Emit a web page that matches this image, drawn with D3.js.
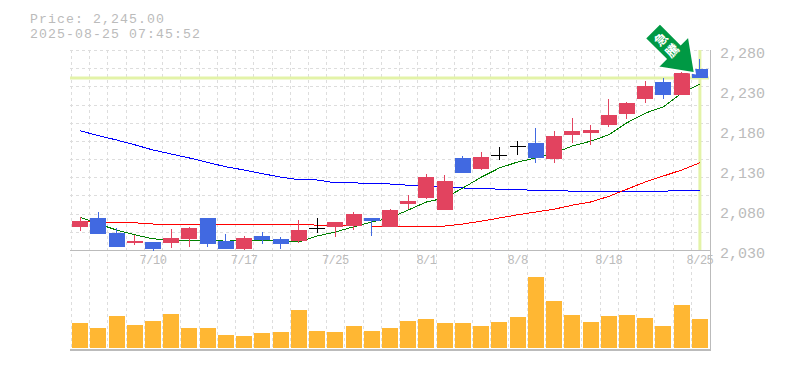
<!DOCTYPE html>
<html>
<head>
<meta charset="utf-8">
<script src="https://cdn.jsdelivr.net/npm/d3@7"></script>
<style>
  html, body { margin: 0; padding: 0; background: #fff; }
  svg { display: block; }
  text { font-family: "Liberation Mono", monospace; fill: #bbb; }
</style>
</head>
<body>
<svg id="chart" width="785" height="370"></svg>
<script>
const dates = ["7/4","7/7","7/8","7/9","7/10","7/11","7/14","7/15","7/16","7/17","7/18","7/22","7/23","7/24","7/25","7/28","7/29","7/30","7/31","8/1","8/4","8/5","8/6","8/7","8/8","8/12","8/13","8/14","8/15","8/18","8/19","8/20","8/21","8/22","8/25"];
const dateLabels = ["7/10","7/17","7/25","8/1","8/8","8/18","8/25"];
const priceTicks = [2030, 2080, 2130, 2180, 2230, 2280];

const open = [2059,2070,2051,2039,2040,2039,2044,2070,2041,2031,2048,2044,2041,2058,2059,2060,2070,2059,2088,2095,2080,2145,2131,2149,2160,2164,2144,2174,2176,2186,2200,2219,2240,2224,2256];
const high = [2071,2078,2058,2049,2040,2056,2059,2070,2050,2048,2053,2046,2068,2070,2065,2078,2070,2081,2099,2125,2124,2148,2153,2159,2166,2183,2179,2195,2186,2219,2215,2241,2245,2255,2269];
const low = [2054,2050,2034,2036,2029,2033,2034,2034,2031,2030,2038,2031,2039,2051,2046,2055,2048,2059,2081,2094,2080,2126,2130,2143,2149,2139,2139,2164,2161,2184,2194,2214,2219,2224,2245];
const close = [2066,2050,2034,2041,2031,2045,2058,2038,2031,2045,2043,2038,2055,2058,2065,2075,2066,2080,2091,2121,2116,2126,2146,2149,2160,2145,2173,2179,2180,2199,2214,2235,2224,2251,2245];

const maShort = [2071,2062.5,2055,2049,2044,2042.5,2042.5,2042.5,2041,2042,2042.5,2041,2040,2047.5,2052.5,2059,2065,2070,2080,2090,2095,2107.5,2121,2132.5,2140,2145,2151,2160,2166,2174,2189,2201,2209,2226,2237.5];
const maMid = [2066,2065,2065,2064,2062.5,2062.5,2062.5,2062.5,2062.5,2062.5,2062.5,2062.5,2062.5,2061,2060.5,2060,2060,2060,2060,2060,2060,2062.5,2066,2070,2074,2077.5,2081,2086,2090,2097,2106,2115,2122.5,2130,2139];
const maLong = [2179,2173,2167.5,2161.5,2155,2150,2145,2139.5,2134,2130,2125.5,2121,2118,2117.5,2114,2114,2113,2112.5,2111,2110.5,2109,2107.5,2107,2106,2105.5,2104.5,2104.5,2103.5,2103.5,2103.5,2103.5,2103.5,2103.5,2104.5,2104.5];

const volume = [25,20,32,23,27,34,20,20,13,12,15,16,38,17,16,22,17,20,27,29,25,25,22,26,31,71,47,33,26,32,33,30,22,43,29];

const lastPrice = 2245;
const title = "Price: 2,245.00";
const stamp = "2025-08-25 07:45:52";
const badge = ["急", "騰"];

const svg = d3.select("#chart");

let x = d3.scaleBand().domain(dates).range([71, 709]);
let y = d3.scaleLinear().domain([2030, 2280]).range([250, 50]);
let v = d3.scaleLinear().domain([0, 90]).range([348, 258]);
const cx = d => x(d) + x.bandwidth() / 2;
const bodyW = 16;

// grid
let grid = svg.append("g")
  .attr("stroke", "#ddd")
  .attr("stroke-dasharray", "3,3")
  .attr("shape-rendering", "crispEdges");
grid.selectAll("line.v").data(dates).enter().append("line")
  .attr("class", "v")
  .attr("x1", d => Math.round(x(d))).attr("x2", d => Math.round(x(d)))
  .attr("y1", 50).attr("y2", 350);
grid.selectAll("line.h").data(d3.range(0, 11)).enter().append("line")
  .attr("class", "h")
  .attr("x1", 70).attr("x2", 709)
  .attr("y1", d => Math.round(50 + d * 200 / 11))
  .attr("y2", d => Math.round(50 + d * 200 / 11));

// frame
let frame = svg.append("g").attr("stroke", "#bbb").attr("shape-rendering", "crispEdges");
frame.append("line").attr("x1", 70).attr("x2", 710).attr("y1", 250).attr("y2", 250);
frame.append("line").attr("x1", 710).attr("x2", 710).attr("y1", 50).attr("y2", 351);
frame.append("line").attr("x1", 70).attr("x2", 710).attr("y1", 350).attr("y2", 350).attr("stroke-width", 2);

// last price highlight
svg.append("line")
  .attr("x1", 70).attr("x2", 709)
  .attr("y1", y(lastPrice)).attr("y2", y(lastPrice))
  .attr("stroke", "#e3f3a8").attr("stroke-width", 3);
svg.append("line")
  .attr("x1", cx(dates[34])).attr("x2", cx(dates[34]))
  .attr("y1", 50).attr("y2", 250)
  .attr("stroke", "#e3f3a8").attr("stroke-width", 3);

// moving averages
let line = d3.line().x((d, i) => cx(dates[i])).y(d => y(d));
[[maLong, "#0000ff"], [maMid, "#ff0000"], [maShort, "#008000"]].forEach(function (m) {
  svg.append("path")
    .attr("d", line(m[0]))
    .attr("fill", "none")
    .attr("stroke", m[1])
    .attr("stroke-width", 1)
    .attr("shape-rendering", "crispEdges");
});

// candles
function candleColor(i) {
  if (close[i] === open[i]) return "#000";
  return close[i] > open[i] ? "#e2435f" : "#4169e1";
}
let candles = svg.append("g").attr("shape-rendering", "crispEdges");
candles.selectAll("line.wick").data(dates).enter().append("line")
  .attr("class", "wick")
  .attr("x1", d => cx(d)).attr("x2", d => cx(d))
  .attr("y1", (d, i) => y(high[i])).attr("y2", (d, i) => y(low[i]))
  .attr("stroke", (d, i) => candleColor(i));
candles.selectAll("rect").data(dates).enter().append("rect")
  .attr("x", d => cx(d) - bodyW / 2)
  .attr("width", bodyW)
  .attr("y", (d, i) => y(Math.max(open[i], close[i])))
  .attr("height", (d, i) => Math.max(1, Math.abs(y(open[i]) - y(close[i]))))
  .attr("fill", (d, i) => candleColor(i));

// volume
svg.append("g").attr("shape-rendering", "crispEdges")
  .selectAll("rect").data(dates).enter().append("rect")
  .attr("x", d => cx(d) - bodyW / 2)
  .attr("width", bodyW)
  .attr("y", (d, i) => v(volume[i]))
  .attr("height", (d, i) => v(0) - v(volume[i]))
  .attr("fill", "#ffb733");

// axes
let axisY = svg.append("g")
  .attr("transform", "translate(709,3)")
  .call(d3.axisRight(y).tickValues(priceTicks).tickSize(0).tickPadding(11).tickFormat(d3.format(",")));
axisY.select(".domain").remove();
axisY.selectAll("text").attr("font-size", 15).attr("font-family", null);

let axisX = svg.append("g")
  .attr("transform", "translate(0,250)")
  .call(d3.axisBottom(x).tickValues(dateLabels).tickSize(0).tickPadding(5));
axisX.select(".domain").remove();
axisX.selectAll("text").attr("font-size", 12).attr("letter-spacing", -0.5).attr("font-family", null);

// title
svg.append("text").attr("x", 30).attr("y", 23).attr("font-size", 13.2).attr("letter-spacing", 1.08).text(title);
svg.append("text").attr("x", 30).attr("y", 38).attr("font-size", 13.2).attr("letter-spacing", 1.08).text(stamp);

// arrow badge
let tipX = cx(dates[34]) - 5;
let tipY = y(lastPrice) - 4.7;
let arrow = svg.append("g").attr("transform", "translate(" + tipX + "," + tipY + ") rotate(-45)");
arrow.append("path")
  .attr("d", d3.line()([[0, 0], [22, -30.7], [10.6, -30.7], [10.6, -60], [-10.6, -60], [-10.6, -30.7], [-22, -30.7]]) + "Z")
  .attr("fill", "#009944")
  .attr("stroke", "#fff")
  .attr("stroke-width", 2);
arrow.selectAll("text").data(badge).enter().append("text")
  .attr("x", 0)
  .attr("y", (d, i) => -48 + i * 16)
  .attr("dy", "0.36em")
  .attr("text-anchor", "middle")
  .attr("font-size", 13)
  .attr("font-weight", "bold")
  .style("font-family", '"Noto Sans CJK JP"')
  .style("fill", "#fff")
  .text(d => d);
</script>
</body>
</html>
